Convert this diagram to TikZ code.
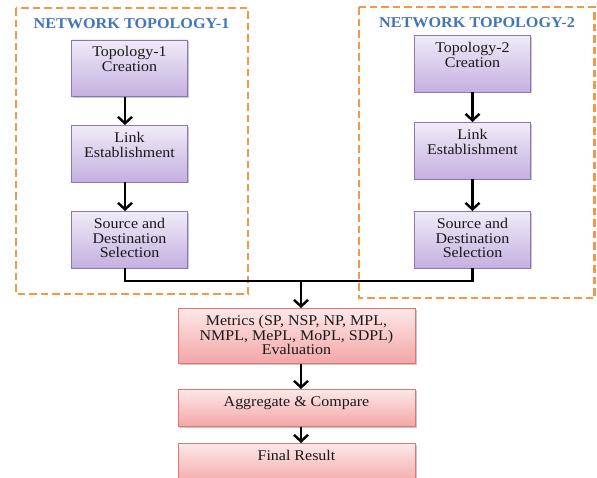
\documentclass[tikz,border=0pt]{standalone}
\usepackage{fontspec}
\setmainfont{Liberation Serif}[FakeStretch=1.08]
\usetikzlibrary{arrows.meta,shadows}
\definecolor{ptop}{RGB}{240,236,248}
\definecolor{pbot}{RGB}{196,176,224}
\definecolor{pborder}{RGB}{140,118,182}
\definecolor{rtop}{RGB}{253,232,232}
\definecolor{rbot}{RGB}{244,166,166}
\definecolor{rborder}{RGB}{218,118,118}
\definecolor{orng}{RGB}{247,150,70}
\definecolor{tblue}{RGB}{66,118,186}
\definecolor{txt}{RGB}{25,25,25}
\newcommand{\bxt}[3]{\parbox[c][#2][t]{#1}{\centering\rule{0pt}{17pt}#3}}
\begin{document}
\begin{tikzpicture}[x=1pt,y=-1pt,
  font=\fontsize{14.8}{14.8}\selectfont,
  pbox/.style={draw=pborder, line width=0.6pt, top color=ptop, bottom color=pbot,
    inner sep=0pt, anchor=north, text=txt,
    drop shadow={shadow xshift=1.5pt, shadow yshift=-1.5pt, opacity=0.3, fill=black!70}},
  rbox/.style={draw=rborder, line width=0.6pt, top color=rtop, bottom color=rbot,
    inner sep=0pt, anchor=north, text=txt,
    drop shadow={shadow xshift=1.5pt, shadow yshift=-1.5pt, opacity=0.3, fill=black!70}},
  flow/.style={line width=2.4pt, black},
  arr/.style={flow, -{Straight Barb[length=6.5pt,width=14pt]}},
  grp/.style={draw=orng, line width=2.5pt, dash pattern=on 7.5pt off 4pt},
  ttl/.style={font=\fontsize{15}{15}\selectfont\bfseries, text=tblue, anchor=base, inner sep=0pt}]

\fill[white] (0,0) rectangle (597,477);
\useasboundingbox (0,0) rectangle (597,477);

% group frames
\draw[grp] (16,8) rectangle (248,294);
\draw[grp] (359,7) rectangle (594.5,298);

% titles
\node[ttl] (t1) at (131.5,28) {NETWORK TOPOLOGY-1};
\node[ttl] (t2) at (477,27) {NETWORK TOPOLOGY-2};

% left column
\node[pbox] (L1) at (129.5,39.5) {\bxt{116pt}{56.5pt}{Topology-1\\Creation}};
\node[pbox] (L2) at (129.5,125) {\bxt{116pt}{56.5pt}{Link\\Establishment}};
\node[pbox] (L3) at (129.5,211) {\bxt{116pt}{56.5pt}{Source and\\Destination\\Selection}};

% right column
\node[pbox] (R1) at (472.5,35) {\bxt{116pt}{56.5pt}{Topology-2\\Creation}};
\node[pbox] (R2) at (472.5,122) {\bxt{116pt}{56.5pt}{Link\\Establishment}};
\node[pbox] (R3) at (472.5,211) {\bxt{116pt}{56.5pt}{Source and\\Destination\\Selection}};

% bottom column
\node[rbox] (M) at (296.5,308) {\bxt{237pt}{55pt}{Metrics (SP, NSP, NP, MPL,\\NMPL, MePL, MoPL, SDPL)\\Evaluation}};
\node[rbox] (A) at (296.5,389) {\bxt{237pt}{37pt}{Aggregate \& Compare}};
\node[rbox] (F) at (296.5,443) {\bxt{237pt}{42pt}{Final Result}};

\coordinate (j) at (301,281);

% connectors
\draw[arr] ([xshift=-4.5pt]L1.south) -- ([xshift=-4.5pt]L2.north);
\draw[arr] ([xshift=-4.5pt]L2.south) -- ([xshift=-4.5pt]L3.north);
\draw[arr] (R1.south) -- (R2.north);
\draw[arr] (R2.south) -- (R3.north);
\draw[flow] ([xshift=-4.5pt]L3.south) |- (j) -| (R3.south);
\draw[arr] (j) -- ([xshift=4.5pt]M.north);
\draw[arr] ([xshift=4.5pt]M.south) -- ([xshift=4.5pt]A.north);
\draw[arr] ([xshift=4.5pt]A.south) -- ([xshift=4.5pt]F.north);
\end{tikzpicture}
\end{document}
